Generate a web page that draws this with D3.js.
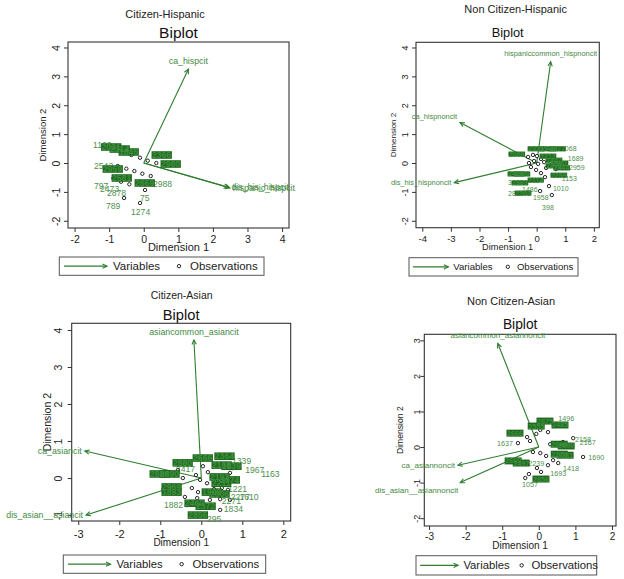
<!DOCTYPE html>
<html><head><meta charset="utf-8">
<script src="https://cdn.jsdelivr.net/npm/d3@7"></script>
<style>
body{margin:0;background:#fff}
svg{display:block}
text{font-family:"Liberation Sans",Arial,sans-serif}
</style>
</head><body>
<svg id="c" width="624" height="579"></svg>
<script>
// ---------------- DATA ----------------
// Panel 1: Citizen-Hispanic
const p1Title = "Citizen-Hispanic";
const p1XDomain = [-2.19, 4.2];
const p1YDomain = [-2.25, 4.19];
const p1XTicks = [-2, -1, 0, 1, 2, 3, 4];
const p1YTicks = [-2, -1, 0, 1, 2, 3, 4];
const p1Vars = [
  {name: "ca_hispcit", x: 1.29, y: 3.25},
  {name: "dis_his_hispcit", x: 2.45, y: -0.84},
  {name: "hispanic_hispcit", x: 2.49, y: -0.86}
];
const p1Obs = [
  [-0.358, 0.277], [-0.107, 0.183], [0.116, 0.080], [0.364, 0.0], [-0.751, -0.104],
  [-0.503, -0.197], [-0.272, -0.277], [-0.040, -0.370], [0.202, -0.450], [-0.879, -0.529],
  [-0.656, -0.647], [-0.416, -0.737], [0.038, -0.934], [-0.107, -1.384], [-0.569, -1.211]
];
const p1Labels = [
  ["1162", -1.465, 0.623], ["2542", -1.436, -0.104], ["2988", 0.269, -0.727],
  ["797", -1.436, -0.796], ["2473", -1.263, -0.900], ["2878", -1.061, -1.038],
  ["75", -0.107, -1.211], ["789", -1.090, -1.488], ["1274", -0.367, -1.696]
];
const p1Blobs = [
  ["2031", -1.22, 0.554], ["2314", -0.974, 0.484], ["1845", -0.714, 0.381],
  ["2366", 0.240, 0.277], ["2980", 0.500, -0.035], ["2959", -1.176, -0.208],
  ["2581", -0.916, -0.519], ["2669", -0.251, -0.692]
];

// Panel 2: Non Citizen-Hispanic
const p2Title = "Non Citizen-Hispanic";
const p2XDomain = [-4.22, 2.19];
const p2YDomain = [-2.24, 4.18];
const p2XTicks = [-4, -3, -2, -1, 0, 1, 2];
const p2YTicks = [-2, -1, 0, 1, 2, 3, 4];
const p2Vars = [
  {name: "hispaniccommon_hispnoncit", x: 0.49, y: 3.51},
  {name: "ca_hispnoncit", x: -2.68, y: 1.40},
  {name: "dis_his_hispnoncit", x: -2.88, y: -0.68}
];
const p2Obs = [
  [-0.30, 0.21], [-0.13, 0.28], [0.01, 0.24], [0.15, 0.14], [-0.27, 0.0], [-0.09, 0.07],
  [0.05, -0.03], [0.26, 0.03], [-0.20, -0.14], [-0.02, -0.24], [0.15, -0.35], [0.33, -0.17],
  [0.50, -0.07], [0.67, -0.21], [0.29, -0.49], [0.43, -0.80], [0.53, -1.11], [0.12, -0.97]
];
const p2Labels = [
  ["1689", 1.09, 0.17], ["2959", 1.13, -0.17], ["1153", 0.88, -0.55], ["3895", -1.00, -0.69],
  ["1010", 0.57, -0.87], ["1486", -0.51, -0.90], ["2869", -1.00, -1.04], ["1958", -0.13, -1.21],
  ["398", 0.19, -1.53], ["1068", 0.85, 0.49]
];
const p2Blobs = [
  ["2069", -0.97, 0.31], ["2335", -0.30, 0.49], ["1948", 0.12, 0.49], ["2477", 0.45, 0.49],
  ["2212", 0.12, 0.24], ["1447", 0.33, 0.10], ["2081", 0.54, 0.0], ["1870", 0.33, -0.10],
  ["2444", 0.60, -0.17], ["2417", -1.00, -0.38], ["1960", -0.79, -0.38], ["2299", 0.50, -0.42],
  ["2114", -0.30, -0.59], ["1883", -0.86, -0.69], ["2203", -0.75, -1.04]
];

// Panel 3: Citizen-Asian
const p3Title = "Citizen-Asian";
const p3XDomain = [-3.16, 2.18];
const p3YDomain = [-1.16, 4.18];
const p3XTicks = [-3, -2, -1, 0, 1, 2];
const p3YTicks = [-1, 0, 1, 2, 3, 4];
const p3Vars = [
  {name: "asiancommon_asiancit", x: -0.18, y: 3.73},
  {name: "ca_asiancit", x: -2.84, y: 0.73},
  {name: "dis_asian__asiancit", x: -2.81, y: -1.0}
];
const p3Obs = [
  [0.04, 0.32], [0.16, 0.16], [0.29, 0.05], [-0.13, 0.08], [-0.03, -0.05], [0.14, -0.14],
  [0.38, -0.05], [0.50, -0.16], [0.58, 0.0], [0.70, 0.14], [0.77, 0.27], [-0.23, -0.27],
  [-0.08, -0.38], [0.14, -0.38], [0.31, -0.30], [0.50, -0.27], [0.65, -0.32], [-0.40, -0.51],
  [-0.10, -0.54], [0.21, -0.59], [0.46, -0.57], [0.70, -0.59], [-0.35, -0.73], [-0.03, -0.68],
  [0.16, -0.81], [0.46, -0.86], [-0.45, 0.0], [-0.57, 0.22]
];
const p3Labels = [
  ["1339", 0.75, 0.46], ["2417", -0.62, 0.24], ["1967", 1.07, 0.22], ["1163", 1.46, 0.11],
  ["1221", 0.65, -0.30], ["2277", 0.72, -0.51], ["1610", 0.93, -0.51], ["2271", 0.50, -0.62],
  ["1882", -0.91, -0.73], ["1834", 0.55, -0.84], ["295", 0.14, -1.11]
];
const p3Blobs = [
  ["2666", -0.20, 0.54], ["2364", 0.33, 0.59], ["2880", -0.69, 0.41], ["2108", 0.26, 0.35],
  ["1839", 0.50, 0.32], ["2886", -1.25, 0.11], ["2890", -1.01, 0.11], ["2193", 0.21, 0.03],
  ["2074", 0.46, -0.05], ["2211", 0.26, -0.14], ["2969", -0.96, -0.24], ["1893", -0.96, -0.38],
  ["1908", 0.02, -0.38], ["2006", 0.21, -0.43], ["2460", -0.40, -0.68], ["2372", -0.13, -0.76],
  ["2856", -0.32, -1.0]
];

// Panel 4: Non Citizen-Asian
const p4Title = "Non Citizen-Asian";
const p4XDomain = [-3.13, 2.11];
const p4YDomain = [-2.22, 3.17];
const p4XTicks = [-3, -2, -1, 0, 1, 2];
const p4YTicks = [-2, -1, 0, 1, 2, 3];
const p4Vars = [
  {name: "asiancommon_asiannoncit", x: -1.12, y: 2.91},
  {name: "ca_asiannoncit", x: -2.21, y: -0.51},
  {name: "dis_asian__asiannoncit", x: -2.15, y: -1.0}
];
const p4Obs = [
  [-0.57, 0.11], [-0.32, 0.28], [-0.07, 0.37], [0.04, 0.48], [0.25, 0.42], [-0.24, 0.17],
  [0.31, 0.08], [0.66, 0.14], [0.94, 0.25], [1.21, -0.28], [-0.16, -0.14], [0.04, -0.17],
  [0.20, -0.25], [0.39, -0.37], [0.53, -0.45], [0.25, -0.51], [-0.05, -0.59], [0.06, -0.70],
  [-0.27, -0.76], [-0.37, -0.87], [0.20, -0.87]
];
const p4Labels = [
  ["1496", 0.53, 0.81], ["1637", -1.14, 0.11], ["2158", 0.99, 0.20], ["2167", 1.12, 0.14],
  ["1690", 1.35, -0.28], ["2239", -0.29, -0.45], ["1418", 0.66, -0.59], ["1693", 0.31, -0.73],
  ["1057", -0.46, -1.04]
];
const p4Blobs = [
  ["2875", -0.05, 0.73], ["2555", -0.29, 0.59], ["2485", 0.36, 0.62], ["2666", -0.87, 0.39],
  ["2048", 0.34, 0.08], ["2090", 0.53, 0.03], ["2270", 0.34, -0.20], ["2281", 0.50, -0.23],
  ["2660", -0.92, -0.39], ["2497", -0.70, -0.45], ["2856", -0.16, -0.90]
];

const legendItems = ["Variables", "Observations"];

// ---------------- STYLE / LAYOUT ----------------
const C_ARROW = "#2f7d2f", C_VAR = "#3f8a3f", C_OBS = "#4f8f4f";
const C_BLOB_BG = "#1f6a1f", C_BLOB_F = "#3f8f3f";

const panels = [
  {title: p1Title, xDom: p1XDomain, yDom: p1YDomain, xTicks: p1XTicks, yTicks: p1YTicks,
   vars: p1Vars, obs: p1Obs, labels: p1Labels, blobs: p1Blobs,
   box: {l: 68, t: 42, r: 289, b: 228}, titlePos: [165, 13.5], biplotDy: 9.7,
   fs: {title: 11, biplot: 15.5, dim1: 11, dim2: 9.5, tick: 10.5, ytick: 10.5, legend: 11.5, varl: 8.8, obsl: 8.6},
   xtickDy: 11, ytickDx: 12, dim2Dx: 26, dim1Dy: 18.7,
   legend: {l: 59.3, t: 257, r: 264, b: 275.3}},
  {title: p2Title, xDom: p2XDomain, yDom: p2YDomain, xTicks: p2XTicks, yTicks: p2YTicks,
   vars: p2Vars, obs: p2Obs, labels: p2Labels, blobs: p2Blobs,
   box: {l: 416, t: 42.3, r: 599.3, b: 227.7}, titlePos: [515.7, 9], biplotDy: 10.3,
   fs: {title: 11, biplot: 12.8, dim1: 9.2, dim2: 8, tick: 9.5, ytick: 9, legend: 9.6, varl: 7.4, obsl: 7},
   xtickDy: 11.3, ytickDx: 11, dim2Dx: 23, dim1Dy: 19.3,
   legend: {l: 409, t: 257.7, r: 578, b: 276}},
  {title: p3Title, xDom: p3XDomain, yDom: p3YDomain, xTicks: p3XTicks, yTicks: p3YTicks,
   vars: p3Vars, obs: p3Obs, labels: p3Labels, blobs: p3Blobs,
   box: {l: 71.7, t: 323.3, r: 290.7, b: 521}, titlePos: [181.7, 295], biplotDy: 8.3,
   fs: {title: 10.5, biplot: 14.7, dim1: 10, dim2: 10.5, tick: 11, ytick: 10.5, legend: 11.3, varl: 8.8, obsl: 8.6},
   xtickDy: 13.3, ytickDx: 13.4, dim2Dx: 25, dim1Dy: 21,
   legend: {l: 63.3, t: 555, r: 265.7, b: 573.3}},
  {title: p4Title, xDom: p4XDomain, yDom: p4YDomain, xTicks: p4XTicks, yTicks: p4YTicks,
   vars: p4Vars, obs: p4Obs, labels: p4Labels, blobs: p4Blobs,
   box: {l: 424.3, t: 334.3, r: 616, b: 526}, titlePos: [511, 301], biplotDy: 10.3,
   fs: {title: 11, biplot: 13.8, dim1: 10, dim2: 8.6, tick: 10, ytick: 9, legend: 11.3, varl: 8, obsl: 7.2},
   xtickDy: 10.7, ytickDx: 7.5, dim2Dx: 24.3, dim1Dy: 19,
   legend: {l: 416, t: 555.7, r: 596.7, b: 575}}
];

const svg = d3.select("#c");

function arrowHead(g, x0, y0, x1, y1, len, color, w) {
  const a = Math.atan2(y1 - y0, x1 - x0);
  const s = 0.45;
  const p = [
    [x1 - len * Math.cos(a - s), y1 - len * Math.sin(a - s)],
    [x1, y1],
    [x1 - len * Math.cos(a + s), y1 - len * Math.sin(a + s)]
  ];
  g.append("path").attr("d", d3.line()(p)).attr("fill", "none")
    .attr("stroke", color).attr("stroke-width", w);
}

function varLabelPos(px, py, ox, oy) {
  const ang = Math.atan2(oy - py, px - ox) * 180 / Math.PI;
  if (ang > 45 && ang < 135) return {x: px, y: py - 8, a: "middle"};
  if (ang >= 135 && ang < 160) return {x: px - 3, y: py - 6, a: "end"};
  if (ang >= 160 || ang <= -160) return {x: px - 3, y: py, a: "end"};
  if (ang > -160 && ang < -110) return {x: px - 2, y: py + 8, a: "end"};
  return {x: px + 3, y: py, a: "start"};
}

function drawPanel(P) {
  const g = svg.append("g");
  const x = d3.scaleLinear().domain(P.xDom).range([P.box.l, P.box.r]);
  const y = d3.scaleLinear().domain(P.yDom).range([P.box.b, P.box.t]);
  const B = P.box;

  // titles
  g.append("text").attr("x", P.titlePos[0]).attr("y", P.titlePos[1])
    .attr("text-anchor", "middle").attr("dominant-baseline", "central")
    .attr("font-size", P.fs.title).attr("fill", "#222").text(P.title);
  g.append("text").attr("x", (B.l + B.r) / 2).attr("y", B.t - P.biplotDy)
    .attr("text-anchor", "middle").attr("dominant-baseline", "central")
    .attr("font-size", P.fs.biplot).attr("fill", "#111").text("Biplot");

  // axes
  const fmt = d => String(d);
  const gx = g.append("g").attr("transform", `translate(0,${B.b})`)
    .call(d3.axisBottom(x).tickValues(P.xTicks).tickSize(4).tickFormat(fmt));
  gx.select(".domain").remove();
  gx.selectAll("line").attr("stroke", "#333");
  gx.selectAll("text").attr("y", P.xtickDy).attr("dy", "0.35em")
    .attr("font-size", P.fs.tick).attr("fill", "#222").attr("font-family", null);

  const gy = g.append("g").attr("transform", `translate(${B.l},0)`)
    .call(d3.axisLeft(y).tickValues(P.yTicks).tickSize(4).tickFormat(fmt));
  gy.select(".domain").remove();
  gy.selectAll("line").attr("stroke", "#333");
  gy.selectAll("text").attr("x", null).attr("dy", null)
    .attr("transform", `translate(${-P.ytickDx},0) rotate(-90)`)
    .attr("text-anchor", "middle").attr("dominant-baseline", "central")
    .attr("font-size", P.fs.ytick).attr("fill", "#222").attr("font-family", null);

  g.append("rect").attr("x", B.l).attr("y", B.t).attr("width", B.r - B.l).attr("height", B.b - B.t)
    .attr("fill", "none").attr("stroke", "#333").attr("stroke-width", 1.1);

  // axis titles
  g.append("text").attr("x", (B.l + B.r) / 2).attr("y", B.b + P.dim1Dy)
    .attr("text-anchor", "middle").attr("dominant-baseline", "central")
    .attr("font-size", P.fs.dim1).attr("fill", "#222").text("Dimension 1");
  g.append("text").attr("transform", `translate(${B.l - P.dim2Dx},${(B.t + B.b) / 2}) rotate(-90)`)
    .attr("text-anchor", "middle").attr("dominant-baseline", "central")
    .attr("font-size", P.fs.dim2).attr("fill", "#222").text("Dimension 2");

  // variable arrows
  const ox = x(0), oy = y(0);
  P.vars.forEach(v => {
    const px = x(v.x), py = y(v.y);
    g.append("line").attr("x1", ox).attr("y1", oy).attr("x2", px).attr("y2", py)
      .attr("stroke", C_ARROW).attr("stroke-width", 1.1);
    arrowHead(g, ox, oy, px, py, 5, C_ARROW, 1.1);
  });

  // observations
  g.selectAll("circle.obs").data(P.obs).join("circle").attr("class", "obs")
    .attr("cx", d => x(d[0])).attr("cy", d => y(d[1])).attr("r", 1.7)
    .attr("fill", "#fff").attr("stroke", "#111").attr("stroke-width", 0.9);

  // single observation labels
  g.selectAll("text.olab").data(P.labels).join("text").attr("class", "olab")
    .attr("x", d => x(d[1])).attr("y", d => y(d[2]))
    .attr("dominant-baseline", "central").attr("font-size", P.fs.obsl)
    .attr("fill", C_OBS).text(d => d[0]);

  // overlapping (dense) observation labels: dark backing + text
  const bg = g.append("g");
  const bt = g.append("g");
  P.blobs.forEach(d => {
    const t = bt.append("text").attr("x", x(d[1])).attr("y", y(d[2]))
      .attr("dominant-baseline", "central").attr("font-size", P.fs.obsl).attr("font-weight", "bold")
      .attr("fill", C_BLOB_F).text(d[0]);
    const bb = t.node().getBBox();
    const inset = P.fs.obsl * 0.14;
    bg.append("rect").attr("x", bb.x - 0.5).attr("y", bb.y + inset)
      .attr("width", bb.width + 1).attr("height", bb.height - 2 * inset)
      .attr("fill", C_BLOB_BG);
  });

  // variable labels
  P.vars.forEach(v => {
    const lp = varLabelPos(x(v.x), y(v.y), ox, oy);
    g.append("text").attr("x", lp.x).attr("y", lp.y).attr("text-anchor", lp.a)
      .attr("dominant-baseline", "central").attr("font-size", P.fs.varl)
      .attr("fill", C_VAR).text(v.name);
  });

  // legend
  const L = P.legend, k = (L.r - L.l) / 204.7, cy = (L.t + L.b) / 2;
  g.append("rect").attr("x", L.l).attr("y", L.t).attr("width", L.r - L.l).attr("height", L.b - L.t)
    .attr("fill", "#fff").attr("stroke", "#555").attr("stroke-width", 1);
  const ax0 = L.l + 4.7 * k, ax1 = L.l + 47.7 * k;
  g.append("line").attr("x1", ax0).attr("x2", ax1).attr("y1", cy).attr("y2", cy)
    .attr("stroke", C_ARROW).attr("stroke-width", 1.1);
  arrowHead(g, ax0, cy, ax1, cy, 5, C_ARROW, 1.1);
  g.append("text").attr("x", L.l + 53.7 * k).attr("y", cy).attr("dominant-baseline", "central")
    .attr("font-size", P.fs.legend).attr("fill", "#222").text(legendItems[0]);
  g.append("circle").attr("cx", L.l + 119.7 * k).attr("cy", cy).attr("r", 1.7)
    .attr("fill", "#fff").attr("stroke", "#111").attr("stroke-width", 0.9);
  g.append("text").attr("x", L.l + 130.7 * k).attr("y", cy).attr("dominant-baseline", "central")
    .attr("font-size", P.fs.legend).attr("fill", "#222").text(legendItems[1]);
}

panels.forEach(drawPanel);
</script>
</body></html>
